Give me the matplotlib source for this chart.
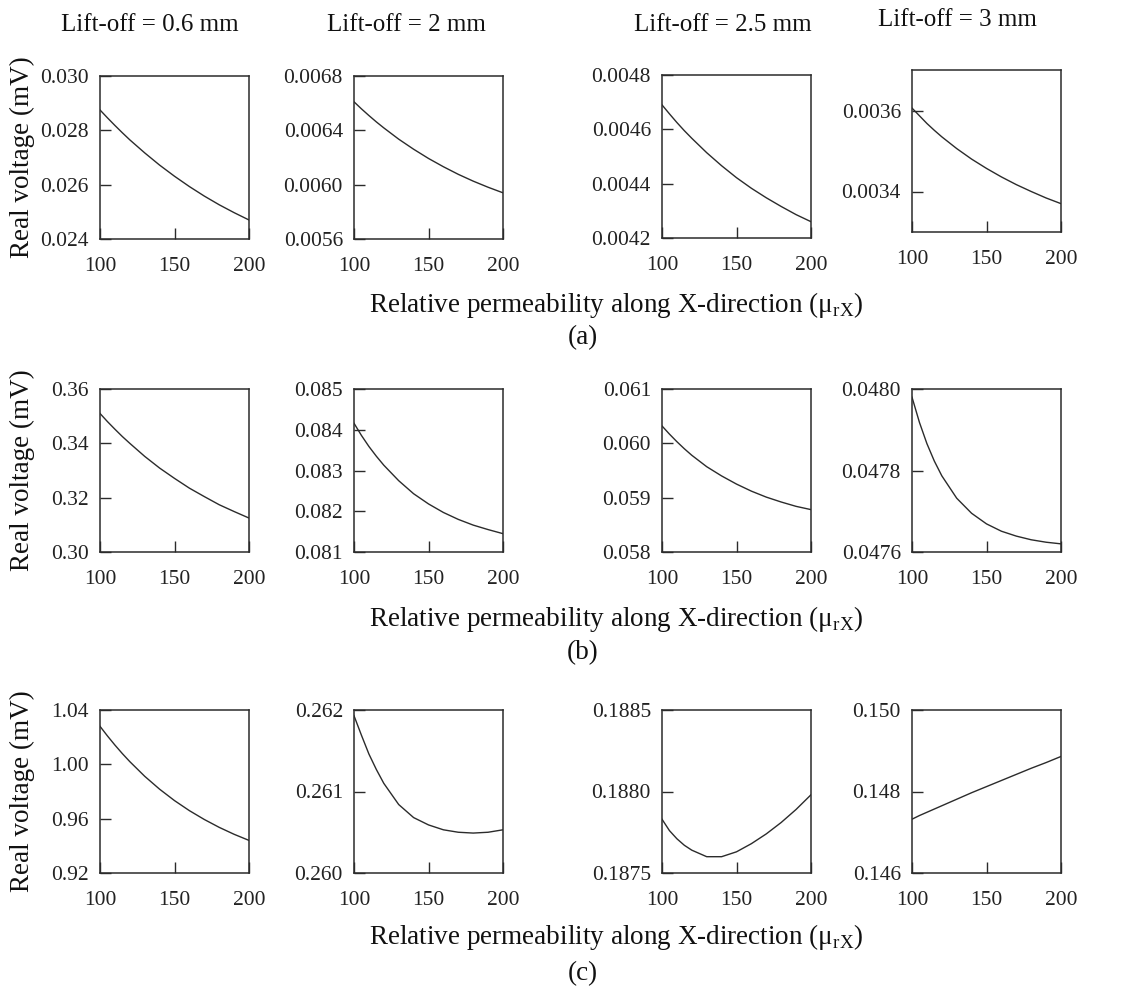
import matplotlib.pyplot as plt

plt.rcParams['font.family'] = 'Liberation Serif'
plt.rcParams['mathtext.fontset'] = 'custom'
plt.rcParams['mathtext.rm'] = 'Liberation Serif'

# relative permeability along X (x axis of every panel)
mu_rx = [100, 105, 110, 115, 120, 130, 140, 150, 160, 170, 180, 190, 200]

liftoffs = ['Lift-off = 0.6 mm', 'Lift-off = 2 mm', 'Lift-off = 2.5 mm', 'Lift-off = 3 mm']
row_tags = ['(a)', '(b)', '(c)']

# real voltage (mV), row (a)
a_06 = [0.02875, 0.02846, 0.02818, 0.02791, 0.02765, 0.02717, 0.02672, 0.02631, 0.02593, 0.02558, 0.02526, 0.02497, 0.02470]
a_2 = [0.006610, 0.006558, 0.006509, 0.006462, 0.006418, 0.006335, 0.006261, 0.006193, 0.006132, 0.006076, 0.006026, 0.005981, 0.005940]
a_25 = [0.004690, 0.004657, 0.004625, 0.004595, 0.004567, 0.004514, 0.004466, 0.004422, 0.004383, 0.004348, 0.004316, 0.004286, 0.004260]
a_3 = [0.003606, 0.003587, 0.003568, 0.003551, 0.003535, 0.003506, 0.003480, 0.003457, 0.003436, 0.003417, 0.003400, 0.003384, 0.003370]

# row (b)
b_06 = [0.3510, 0.3480, 0.3452, 0.3425, 0.3400, 0.3352, 0.3309, 0.3271, 0.3235, 0.3204, 0.3174, 0.3149, 0.3125]
b_2 = [0.08416, 0.08386, 0.08359, 0.08335, 0.08313, 0.08275, 0.08243, 0.08218, 0.08197, 0.08180, 0.08166, 0.08155, 0.08145]
b_25 = [0.06032, 0.06017, 0.06003, 0.05990, 0.05978, 0.05957, 0.05940, 0.05925, 0.05912, 0.05901, 0.05892, 0.05884, 0.05878]
b_3 = [0.047980, 0.047918, 0.047866, 0.047823, 0.047787, 0.047732, 0.047695, 0.047669, 0.047651, 0.047639, 0.047630, 0.047624, 0.047620]

# row (c)
c_06 = [1.0280, 1.0209, 1.0142, 1.0079, 1.0020, 0.9912, 0.9817, 0.9733, 0.9659, 0.9594, 0.9536, 0.9485, 0.9440]
c_2 = [0.26193, 0.26169, 0.26146, 0.26127, 0.26110, 0.26084, 0.26068, 0.26059, 0.26053, 0.26050, 0.26049, 0.26050, 0.26053]
c_25 = [0.18783, 0.18776, 0.18771, 0.18767, 0.18764, 0.18760, 0.18760, 0.18763, 0.18768, 0.18774, 0.18781, 0.18789, 0.18798]
c_3 = [0.14732, 0.14741, 0.14749, 0.14757, 0.14765, 0.14781, 0.14797, 0.14812, 0.14827, 0.14842, 0.14857, 0.14871, 0.14886]

series = [[a_06, a_2, a_25, a_3], [b_06, b_2, b_25, b_3], [c_06, c_2, c_25, c_3]]

y_limits = [
    [(0.024, 0.030), (0.0056, 0.0068), (0.0042, 0.0048), (0.0033, 0.0037)],
    [(0.30, 0.36), (0.081, 0.085), (0.058, 0.061), (0.0476, 0.0480)],
    [(0.92, 1.04), (0.260, 0.262), (0.1875, 0.1885), (0.146, 0.150)],
]
y_ticklabels = [
    [['0.024', '0.026', '0.028', '0.030'], ['0.0056', '0.0060', '0.0064', '0.0068'],
     ['0.0042', '0.0044', '0.0046', '0.0048'], ['0.0034', '0.0036']],
    [['0.30', '0.32', '0.34', '0.36'], ['0.081', '0.082', '0.083', '0.084', '0.085'],
     ['0.058', '0.059', '0.060', '0.061'], ['0.0476', '0.0478', '0.0480']],
    [['0.92', '0.96', '1.00', '1.04'], ['0.260', '0.261', '0.262'],
     ['0.1875', '0.1880', '0.1885'], ['0.146', '0.148', '0.150']],
]
x_ticks = [100, 150, 200]

W, H = 1135, 990
fig = plt.figure(figsize=(W / 100, H / 100), dpi=100)
ink = '#2b2b2b'

# panel boxes in pixels: (top, bottom) per panel, left edges per column
lefts = [100, 354, 662, 912]
width = 149
row_boxes = [[(76, 239), (76, 239), (75, 238), (70, 232)],
             [(389, 552)] * 4,
             [(710, 873)] * 4]
label_y = [305, 619, 937]
tag_y = [338, 653, 974]

for r in range(3):
    for c in range(4):
        top, bot = row_boxes[r][c]
        l = lefts[c]
        ax = fig.add_axes([l / W, 1 - bot / H, width / W, (bot - top) / H])
        ax.plot(mu_rx, series[r][c], color=ink, lw=1.0)
        ax.set_xlim(100, 200)
        ax.set_ylim(*y_limits[r][c])
        ax.set_xticks(x_ticks)
        ax.set_xticklabels([str(t) for t in x_ticks])
        ax.set_yticks([float(t) for t in y_ticklabels[r][c]])
        ax.set_yticklabels(y_ticklabels[r][c])
        ax.tick_params(direction='in', length=8, width=1.0, color=ink,
                       labelsize=15.5, labelcolor='#222', top=False, right=False)
        ax.tick_params(axis='y', pad=8)
        ax.tick_params(axis='x', pad=13)
        for s in ax.spines.values():
            s.set_color(ink)
            s.set_linewidth(1.1)
        if c == 0:
            fig.text(22 / W, 1 - (top + bot) / 2 / H, 'Real voltage (mV)', rotation=90,
                     ha='center', va='center', fontsize=19.5, color='#111')
    fig.text(616 / W, 1 - label_y[r] / H,
             r'Relative permeability along X-direction (μ$_{\mathrm{rX}}$)',
             ha='center', va='center', fontsize=19.5, color='#111')
    fig.text(583 / W, 1 - tag_y[r] / H, row_tags[r], ha='center', va='center',
             fontsize=19.5, color='#111')

title_pos = [(150, 25), (406, 25), (723, 25), (957, 20)]
for name, (tx, ty) in zip(liftoffs, title_pos):
    fig.text(tx / W, 1 - ty / H, name, ha='center', va='center', fontsize=18, color='#111')

fig.savefig('out.png', dpi=100)
